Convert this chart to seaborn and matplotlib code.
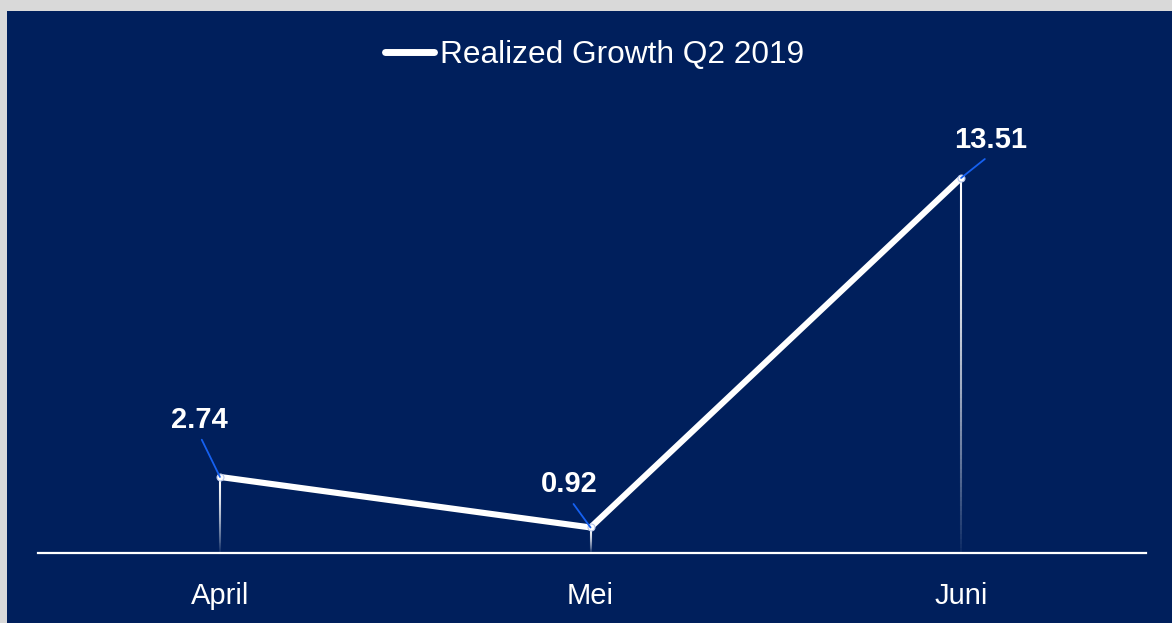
import numpy as np
import pandas as pd
import matplotlib.pyplot as plt
import seaborn as sns
from matplotlib.collections import LineCollection
from matplotlib.patches import Rectangle

months = ['April', 'Mei', 'Juni']
growth = [2.74, 0.92, 13.51]
series_name = 'Realized Growth Q2 2019'

navy = '#001F5C'
leader_blue = '#1560F0'

sns.set_style('white')
plt.rcParams['font.family'] = ['Liberation Sans', 'DejaVu Sans']

df = pd.DataFrame({'month': months, 'growth': growth})

fig = plt.figure(figsize=(11.72, 6.23), dpi=100, facecolor='#D9D9D9')
# navy panel, gray strip only on top and left
fig.patches.append(Rectangle((7 / 1172, 0), 1, 1 - 11 / 623, transform=fig.transFigure,
                             facecolor=navy, edgecolor='none', zorder=-10))

ax = fig.add_axes([38 / 1172, 70 / 623, 1108 / 1172, 453 / 623])
ax.set_facecolor('none')

sns.lineplot(data=df, x='month', y='growth', ax=ax, sort=False, color='white',
             linewidth=4.4, marker='o', markersize=5, markerfacecolor='white',
             markeredgecolor='#b8c6ea', markeredgewidth=0.8,
             solid_joinstyle='round', solid_capstyle='round',
             label=series_name, legend=False, zorder=5)

# fading drop lines from each point down to the axis
n = 80
for i, v in enumerate(growth):
    ys = np.linspace(v, 0, n + 1)
    segs = [[(i, ys[k]), (i, ys[k + 1])] for k in range(n)]
    t = np.linspace(0, 1, n)
    alphas = 1.0 - 0.95 * t ** 1.6
    cols = [(1, 1, 1, a) for a in alphas]
    ax.add_collection(LineCollection(segs, colors=cols, linewidths=1.5, zorder=3))

# data labels with leader lines
offsets = [(-21, 57), (-21, 43), (30, 38)]
for i, (v, off) in enumerate(zip(growth, offsets)):
    ax.annotate(f'{v:.2f}', xy=(i, v), xytext=off, textcoords='offset pixels',
                ha='center', va='center', color='white', fontsize=21, fontweight='bold',
                arrowprops=dict(arrowstyle='-', color=leader_blue, lw=1.3,
                                relpos=(0.5, 0), shrinkA=2, shrinkB=0), zorder=6)

ax.set_xlim(-0.491, 2.499)
ax.set_ylim(0, 16.32)
ax.set_xlabel('')
ax.set_ylabel('')
ax.set_yticks([])
ax.set_xticks(range(len(months)))
ax.set_xticklabels(months)
ax.tick_params(axis='x', length=0, pad=21, labelsize=21, labelcolor='white')
for s in ['top', 'right', 'left']:
    ax.spines[s].set_visible(False)
ax.spines['bottom'].set_color('white')
ax.spines['bottom'].set_linewidth(1.6)

handle = plt.Line2D([], [], color='white', linewidth=5, solid_capstyle='round')
fig.legend([handle], [series_name], loc='center', bbox_to_anchor=(594.5 / 1172, 1 - 55 / 623),
           frameon=False, fontsize=22.8, labelcolor='white', handlelength=1.55,
           handletextpad=0.16)

fig.savefig('out.png', dpi=100, facecolor=fig.get_facecolor())
